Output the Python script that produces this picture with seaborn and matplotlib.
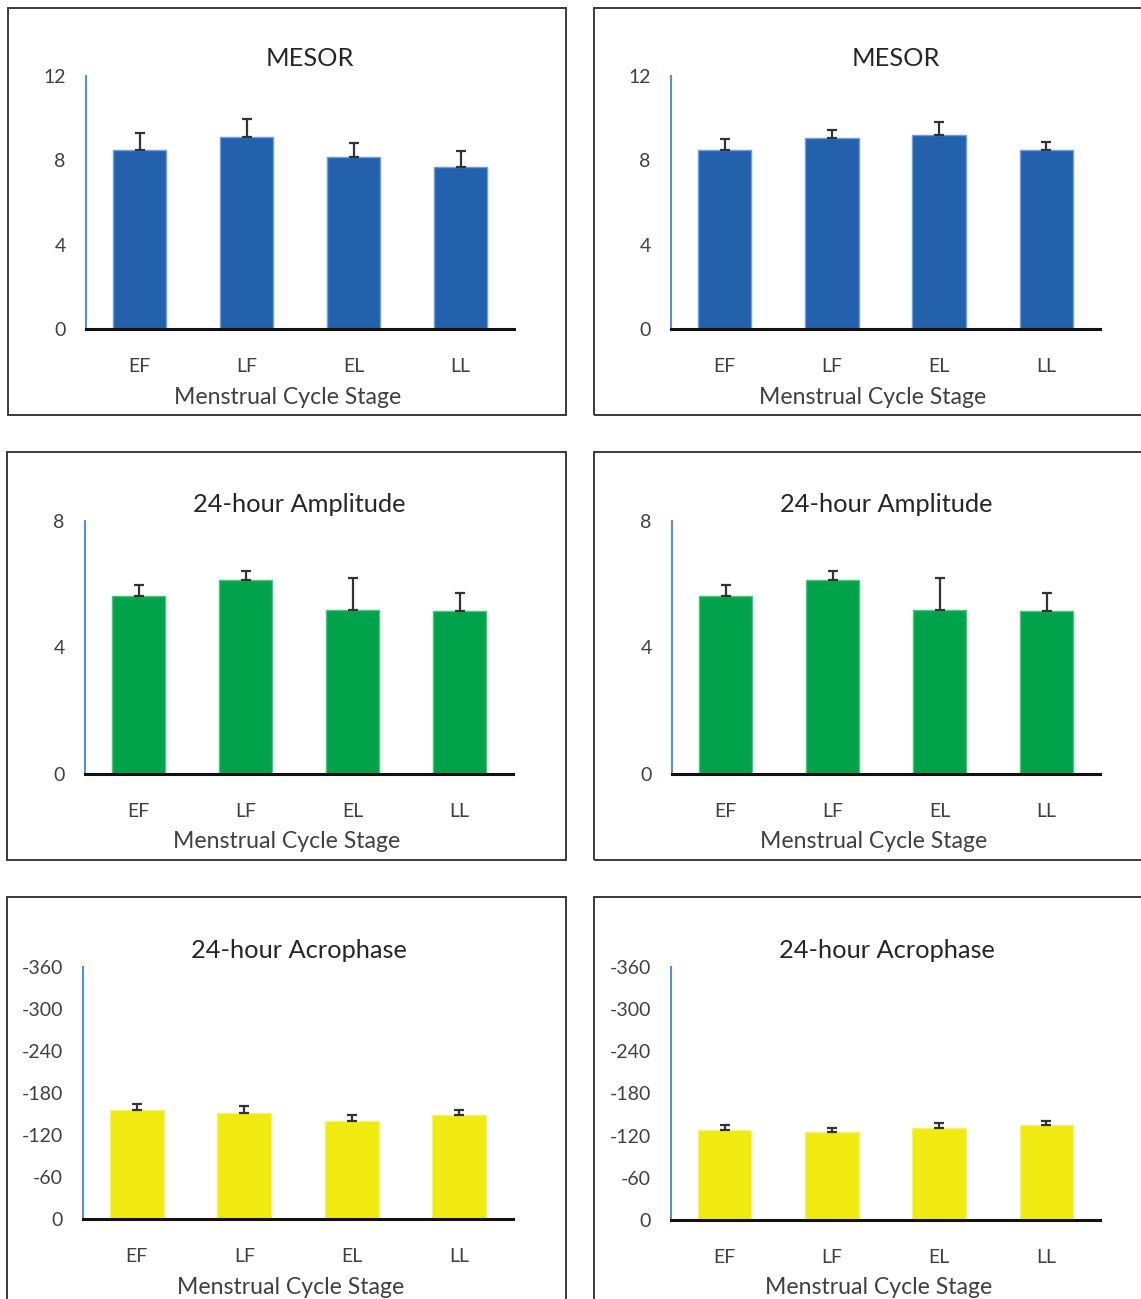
import numpy as np
import pandas as pd
import matplotlib
matplotlib.use("Agg")
import matplotlib.pyplot as plt
from matplotlib.patches import Rectangle
import seaborn as sns

sns.set_theme(style="white")
plt.rcParams["font.family"] = ["Lato", "DejaVu Sans"]
plt.rcParams["axes.unicode_minus"] = False

stages = ["EF", "LF", "EL", "LL"]

# MESOR (left / right)
mesor_left = [8.48, 9.13, 8.16, 7.70]
mesor_left_err = [0.82, 0.84, 0.66, 0.73]
mesor_right = [8.51, 9.07, 9.19, 8.48]
mesor_right_err = [0.49, 0.38, 0.62, 0.41]

# 24-hour amplitude (left / right)
amp_left = [5.63, 6.15, 5.20, 5.15]
amp_left_err = [0.36, 0.28, 0.99, 0.56]
amp_right = [5.63, 6.15, 5.20, 5.15]
amp_right_err = [0.36, 0.28, 0.99, 0.56]

# 24-hour acrophase in degrees (left / right)
acro_left = [-155.3, -151.4, -139.6, -149.0]
acro_left_err = [8.5, 10.0, 9.4, 6.3]
acro_right = [-128.3, -125.0, -131.2, -135.0]
acro_right_err = [6.2, 6.0, 6.2, 6.0]

mesor_ticks = [0, 4, 8, 12]
amp_ticks = [0, 4, 8]
acro_ticks = [0, -60, -120, -180, -240, -300, -360]

BLUE = "#2461ac"
GREEN = "#00a24a"
YELLOW = "#f0ea10"

W, H = 1141, 1299
fig = plt.figure(figsize=(W / 100, H / 100), dpi=100)


def fx(px):
    return px / W


def fy(py):
    return 1 - py / H


def frame(x0, y0, x1, y1):
    fig.patches.append(Rectangle((fx(x0), fy(y1)), fx(x1 - x0), (y1 - y0) / H,
                                 transform=fig.transFigure, fill=False,
                                 edgecolor="#3a3a3a", linewidth=1.4, zorder=0))


def panel(box, values, errs, ticks, color, edge, title, title_x, xlabel_x,
          inverted=False):
    x0, y0, x1, y1 = box
    ax = fig.add_axes([fx(x0), fy(y1), fx(x1 - x0), (y1 - y0) / H])
    df = pd.DataFrame({"stage": stages, "value": values})
    sns.barplot(data=df, x="stage", y="value", color=color, width=0.5,
                saturation=1, edgecolor=edge, linewidth=1.0, ax=ax)
    if inverted:
        yerr = [errs, [0] * len(errs)]
    else:
        yerr = [[0] * len(errs), errs]
    ax.errorbar(np.arange(len(stages)), values, yerr=yerr, fmt="none",
                ecolor="#333333", elinewidth=1.6, capsize=3.5, capthick=1.6,
                zorder=5)
    ax.set_xlim(-0.5, len(stages) - 0.5)
    if inverted:
        ax.set_ylim(0, min(ticks))
    else:
        ax.set_ylim(0, max(ticks))
    ax.set_yticks(ticks)
    ax.set_yticklabels([str(t) for t in ticks])
    ax.tick_params(axis="y", length=0, pad=14.5, labelsize=14, labelcolor="#404040")
    ax.tick_params(axis="x", length=0, pad=21, labelsize=14, labelcolor="#404040")
    for s in ["top", "right"]:
        ax.spines[s].set_visible(False)
    ax.spines["left"].set_color("#5b8bd9")
    ax.spines["left"].set_linewidth(1.5)
    ax.spines["bottom"].set_color("#111111")
    ax.spines["bottom"].set_linewidth(2.2)
    ax.spines["bottom"].set_zorder(6)
    ax.set_xlabel("Menstrual Cycle Stage", fontsize=16.6, color="#404040")
    ax.xaxis.set_label_coords((xlabel_x - x0) / (x1 - x0), -68 / (y1 - y0))
    ax.xaxis.label.set_va("center")
    ax.set_ylabel("")
    ax.text((title_x - x0) / (x1 - x0), 1 + 17 / (y1 - y0), title,
            transform=ax.transAxes, ha="center", va="center", fontsize=18.3,
            color="#262626")
    ax.set_facecolor("none")
    return ax


# panel frames
frame(8, 8, 566, 415)
frame(594, 8, 1150, 415)
frame(7, 452, 566, 860)
frame(594, 452, 1150, 860)
frame(7, 897, 566, 1310)
frame(594, 897, 1150, 1310)

panel((86, 76, 514, 329), mesor_left, mesor_left_err, mesor_ticks,
      BLUE, "#6f9be0", "MESOR", 310, 288)
panel((671, 76, 1100, 329), mesor_right, mesor_right_err, mesor_ticks,
      BLUE, "#6f9be0", "MESOR", 896, 873)
panel((85, 521, 513, 774), amp_left, amp_left_err, amp_ticks,
      GREEN, "#4cc27f", "24-hour Amplitude", 299, 287)
panel((672, 521, 1100, 774), amp_right, amp_right_err, amp_ticks,
      GREEN, "#4cc27f", "24-hour Amplitude", 886, 874)
panel((83, 967, 513, 1219), acro_left, acro_left_err, acro_ticks,
      YELLOW, "#f5f07a", "24-hour Acrophase", 299, 291, inverted=True)
panel((671, 967, 1100, 1220), acro_right, acro_right_err, acro_ticks,
      YELLOW, "#f5f07a", "24-hour Acrophase", 887, 879, inverted=True)

fig.savefig("out.png", dpi=100, facecolor="white")
